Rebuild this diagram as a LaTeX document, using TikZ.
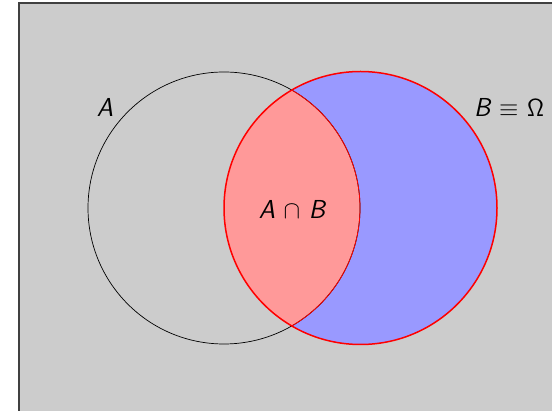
\documentclass[tikz,border=0pt]{standalone}
\usetikzlibrary{backgrounds}

\begin{document}
\begin{tikzpicture}[
  x=1pt, y=-1pt,
  font=\fontsize{26}{30}\selectfont\sffamily\itshape,
  canvas/.style={fill=black!20, draw=black!75, line width=1.2pt},
  setA/.style={draw=black, line width=0.7pt},
  setB/.style={draw=red, line width=1.5pt},
  meet/.style={draw=red, line width=0.8pt},
  lbl/.style={inner sep=1pt},
]
\useasboundingbox (0,0) rectangle (552,411);

% ---- background ---------------------------------------------------------
\begin{scope}
  \clip (0,0) rectangle (552,411);
  \draw[canvas] (19,3) rectangle (600,460);
\end{scope}

% ---- the two sets -------------------------------------------------------
\coordinate (cA) at (224,208);
\coordinate (cB) at (360.5,208);

\fill[blue!40] (cB) circle (136.5);
\begin{scope}
  \clip (cA) circle (136);
  \fill[red!40] (cB) circle (136.5);
\end{scope}

\draw[setA] (cA) circle (136);
\begin{scope}
  \clip (cB) circle (136.5);
  \draw[meet] (cA) circle (136);
\end{scope}
\draw[setB] (cB) circle (136.5);

% ---- labels -------------------------------------------------------------
\node[lbl] (labA)  at (105,107) {A};
\node[lbl] (labB)  at (509,107) {B\,\,$\equiv$\,\,$\mathsf{\Omega}$};
\node[lbl] (labAB) at (292,209) {A\,\,$\cap$\,\,B};

\end{tikzpicture}
\end{document}
